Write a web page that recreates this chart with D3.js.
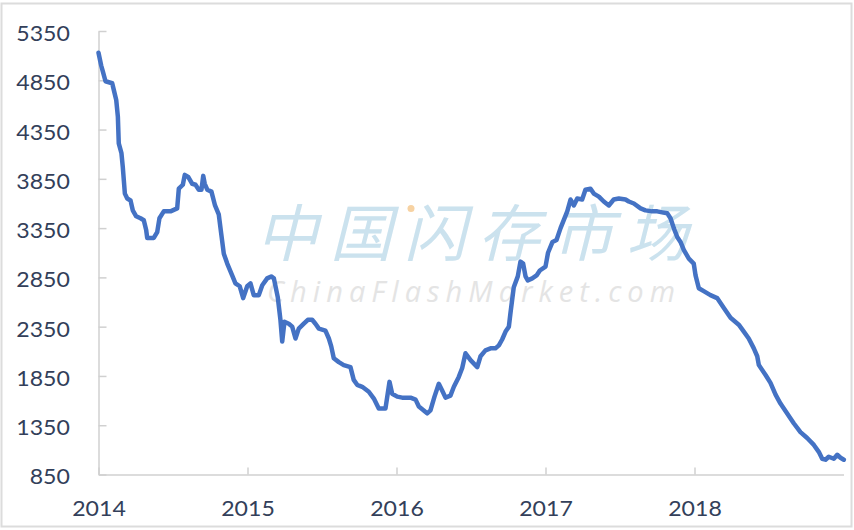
<!DOCTYPE html>
<html>
<head>
<meta charset="utf-8">
<script src="https://cdnjs.cloudflare.com/ajax/libs/d3/7.8.5/d3.min.js"></script>
<style>
  body { margin: 0; background: #fff; }
  .tick text { font-family: Lato, "Open Sans", sans-serif; font-size: 21px; fill: #333f5a; }
</style>
</head>
<body>
<div class="interactive"></div>
<script>
// decimal year of each weekly reading
var dates = [
  2014.000, 2014.018, 2014.029, 2014.047, 2014.092, 2014.103, 2014.119, 2014.130, 2014.136, 2014.154,
  2014.163, 2014.177, 2014.193, 2014.215, 2014.230, 2014.253, 2014.282, 2014.304, 2014.320, 2014.327,
  2014.371, 2014.394, 2014.409, 2014.438, 2014.483, 2014.528, 2014.539, 2014.566, 2014.579, 2014.602,
  2014.629, 2014.651, 2014.673, 2014.691, 2014.703, 2014.713, 2014.730, 2014.758, 2014.782, 2014.807,
  2014.823, 2014.841, 2014.864, 2014.897, 2014.919, 2014.948, 2014.971, 2014.998, 2015.020, 2015.042,
  2015.076, 2015.099, 2015.132, 2015.159, 2015.177, 2015.203, 2015.221, 2015.233, 2015.248, 2015.277,
  2015.300, 2015.322, 2015.344, 2015.378, 2015.405, 2015.434, 2015.456, 2015.479, 2015.523, 2015.546,
  2015.562, 2015.579, 2015.613, 2015.646, 2015.691, 2015.713, 2015.736, 2015.770, 2015.814, 2015.848,
  2015.881, 2015.926, 2015.953, 2015.971, 2016.005, 2016.038, 2016.094, 2016.128, 2016.150, 2016.183,
  2016.206, 2016.228, 2016.255, 2016.284, 2016.304, 2016.329, 2016.362, 2016.385, 2016.418, 2016.441,
  2016.463, 2016.497, 2016.542, 2016.564, 2016.597, 2016.631, 2016.664, 2016.687, 2016.709, 2016.732,
  2016.754, 2016.765, 2016.787, 2016.814, 2016.832, 2016.850, 2016.866, 2016.881, 2016.911, 2016.940,
  2016.962, 2017.000, 2017.017, 2017.047, 2017.074, 2017.101, 2017.146, 2017.168, 2017.190, 2017.213,
  2017.246, 2017.268, 2017.302, 2017.324, 2017.358, 2017.391, 2017.425, 2017.458, 2017.492, 2017.537,
  2017.559, 2017.593, 2017.638, 2017.671, 2017.716, 2017.750, 2017.783, 2017.817, 2017.839, 2017.861,
  2017.884, 2017.906, 2017.928, 2017.962, 2017.995, 2018.007, 2018.029, 2018.062, 2018.107, 2018.152,
  2018.197, 2018.242, 2018.297, 2018.331, 2018.364, 2018.398, 2018.421, 2018.432, 2018.477, 2018.510,
  2018.544, 2018.577, 2018.622, 2018.666, 2018.711, 2018.756, 2018.801, 2018.834, 2018.857, 2018.879,
  2018.901, 2018.935, 2018.958, 2018.980, 2019.002
];

var prices = [
  5130, 5000, 4940, 4840, 4820, 4750, 4650, 4480, 4210, 4110,
  3970, 3700, 3650, 3630, 3530, 3470, 3450, 3430, 3330, 3250,
  3250, 3310, 3450, 3520, 3520, 3550, 3750, 3790, 3890, 3870,
  3800, 3790, 3740, 3740, 3880, 3800, 3740, 3720, 3580, 3490,
  3300, 3090, 2990, 2870, 2790, 2760, 2640, 2760, 2790, 2670,
  2670, 2770, 2840, 2860, 2840, 2650, 2420, 2200, 2400, 2380,
  2350, 2230, 2330, 2380, 2420, 2420, 2380, 2330, 2310, 2230,
  2150, 2030, 1990, 1960, 1940, 1810, 1760, 1740, 1690, 1620,
  1520, 1520, 1790, 1670, 1640, 1630, 1630, 1610, 1540, 1500,
  1470, 1500, 1640, 1770, 1710, 1630, 1650, 1740, 1840, 1930,
  2080, 2010, 1940, 2050, 2110, 2130, 2130, 2160, 2220, 2300,
  2350, 2490, 2750, 2860, 3010, 2990, 2860, 2820, 2840, 2870,
  2920, 2960, 3100, 3210, 3230, 3350, 3520, 3640, 3580, 3650,
  3640, 3740, 3750, 3700, 3670, 3620, 3580, 3640, 3650, 3640,
  3620, 3600, 3550, 3530, 3520, 3520, 3510, 3500, 3450, 3350,
  3260, 3210, 3130, 3040, 2990, 2870, 2740, 2710, 2670, 2640,
  2540, 2440, 2370, 2300, 2230, 2130, 2050, 1960, 1860, 1780,
  1660, 1570, 1470, 1370, 1280, 1220, 1150, 1080, 1010, 1000,
  1030, 1010, 1050, 1020, 1000
];

var yTicks = [850, 1350, 1850, 2350, 2850, 3350, 3850, 4350, 4850, 5350];
var xTicks = [2014, 2015, 2016, 2017, 2018];

var width = 854;
var height = 530;

var svg = d3.select(".interactive")
    .append("svg")
    .attr("width", width)
    .attr("height", height);

svg.append("rect")
    .attr("x", 1.5).attr("y", 3.5)
    .attr("width", 850).attr("height", 523)
    .attr("fill", "#fff")
    .attr("stroke", "#dcdcdc")
    .attr("stroke-width", 2);

var x = d3.scaleLinear().domain([2014, 2019]).range([98.5, 843.5]);
var y = d3.scaleLinear().domain([850, 5350]).range([474.5, 31]);

// watermark
svg.append("text")
    .attr("x", 256).attr("y", 256)
    .attr("textLength", 432)
    .attr("lengthAdjust", "spacing")
    .style("font-family", "'Noto Sans CJK SC', sans-serif")
    .style("font-size", "62px")
    .style("font-style", "italic")
    .style("font-weight", 400)
    .style("fill", "#cbe2ee")
    .text("中国闪存市场");

svg.append("circle")
    .attr("cx", 411).attr("cy", 208.5).attr("r", 3.5)
    .attr("fill", "#f7d2a2");

svg.append("text")
    .attr("x", 267).attr("y", 302)
    .attr("textLength", 408)
    .attr("lengthAdjust", "spacing")
    .style("font-family", "'Open Sans', sans-serif")
    .style("font-size", "29px")
    .style("font-style", "italic")
    .style("fill", "#e4e4e4")
    .text("ChinaFlashMarket.com");

var yAxis = svg.append("g")
    .attr("transform", "translate(98.5,0)")
    .call(d3.axisLeft(y).tickValues(yTicks).tickFormat(d3.format("d"))
        .tickSize(-8).tickSizeOuter(0).tickPadding(26));

var xAxis = svg.append("g")
    .attr("transform", "translate(0,474.5)")
    .call(d3.axisBottom(x).tickValues(xTicks).tickFormat(d3.format("d"))
        .tickSize(-7).tickSizeOuter(0).tickPadding(27));

svg.selectAll(".domain").attr("stroke", "#d0d0d0").attr("stroke-width", 1.5);
svg.selectAll(".tick line").attr("stroke", "#d0d0d0").attr("stroke-width", 1.5);
yAxis.selectAll("text").attr("dy", "0.45em").attr("transform", "scale(1.1,1)");
xAxis.selectAll("text").attr("transform", "scale(1.1,1)");

var line = d3.line()
    .x(function(d, i) { return x(dates[i]); })
    .y(function(d) { return y(d); });

svg.append("path")
    .datum(prices)
    .attr("fill", "none")
    .attr("stroke", "#4472c4")
    .attr("stroke-width", 4.5)
    .attr("stroke-linejoin", "round")
    .attr("stroke-linecap", "round")
    .attr("d", line);
</script>
</body>
</html>
